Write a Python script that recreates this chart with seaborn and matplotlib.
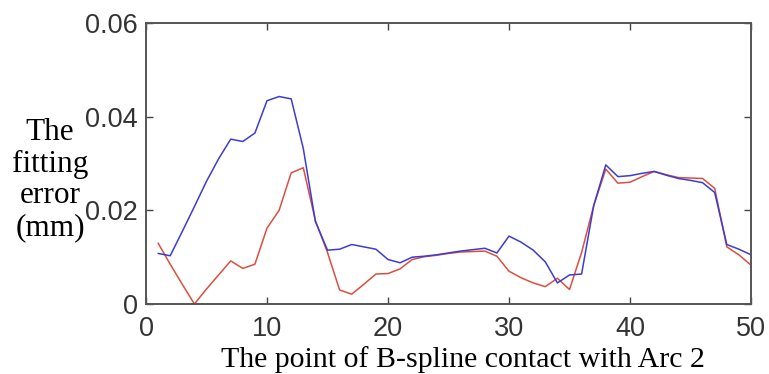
import numpy as np
import pandas as pd
import matplotlib
matplotlib.use("Agg")
import matplotlib.pyplot as plt
import seaborn as sns

points = list(range(1, 51))
blue_err = [0.0108, 0.0103, 0.0155, 0.0208, 0.0262, 0.0310, 0.0352, 0.0347, 0.0365, 0.0434,
            0.0443, 0.0438, 0.0332, 0.0176, 0.0115, 0.0117, 0.0127, 0.0122, 0.0117, 0.0095,
            0.0088, 0.0100, 0.0102, 0.0105, 0.0109, 0.0113, 0.0116, 0.0119, 0.0109, 0.0145,
            0.0132, 0.0115, 0.0090, 0.0045, 0.0062, 0.0064, 0.0210, 0.0297, 0.0272, 0.0274,
            0.0279, 0.0283, 0.0275, 0.0268, 0.0264, 0.0259, 0.0238, 0.0127, 0.0117, 0.0105]
red_err = [0.0130, 0.0085, 0.0042, 0.0000, 0.0032, 0.0062, 0.0092, 0.0076, 0.0085, 0.0162,
           0.0200, 0.0280, 0.0291, 0.0178, 0.0110, 0.0030, 0.0021, 0.0042, 0.0064, 0.0065,
           0.0075, 0.0095, 0.0101, 0.0104, 0.0108, 0.0111, 0.0112, 0.0113, 0.0102, 0.0070,
           0.0056, 0.0045, 0.0037, 0.0055, 0.0031, 0.0110, 0.0210, 0.0288, 0.0258, 0.0260,
           0.0272, 0.0283, 0.0276, 0.0270, 0.0269, 0.0268, 0.0247, 0.0122, 0.0105, 0.0083]
x_ticks = [0, 10, 20, 30, 40, 50]
y_ticks = [0, 0.02, 0.04, 0.06]
y_tick_labels = ["0", "0.02", "0.04", "0.06"]

df = pd.DataFrame({
    "point": points * 2,
    "error": red_err + blue_err,
    "series": ["red"] * len(points) + ["blue"] * len(points),
})

sns.set_style("ticks")
plt.rcParams["font.family"] = ["Liberation Sans", "DejaVu Sans"]

fig = plt.figure(figsize=(7.69, 3.74), dpi=100)
ax = fig.add_axes([146 / 769, 1 - 304 / 374, (751 - 146) / 769, (304 - 23) / 374])

sns.lineplot(data=df, x="point", y="error", hue="series",
             palette={"red": "#d9503f", "blue": "#3c3cd2"},
             linewidth=1.1, legend=False, ax=ax)

ax.set_xlim(0, 50)
ax.set_ylim(0, 0.06)
ax.set_xticks(x_ticks)
ax.set_xticklabels([str(t) for t in x_ticks])
ax.set_yticks(y_ticks)
ax.set_yticklabels(y_tick_labels)
ax.tick_params(direction="in", length=5, width=1, colors="#444444",
               labelcolor="#333333", labelsize=19.5, top=True, right=True)
ax.tick_params(axis="x", pad=9)
ax.tick_params(axis="y", pad=6)
for s in ax.spines.values():
    s.set_visible(True)
    s.set_color("#555555")
    s.set_linewidth(1.4)
ax.set_xlabel("")
ax.set_ylabel("")

fig.text(463 / 769, 1 - 367 / 374, "The point of B-spline contact with Arc 2",
         ha="center", va="baseline", fontsize=21.5,
         family=["Liberation Serif", "DejaVu Serif"], color="black")
fig.text(50 / 769, 1 - 180 / 374, "The\nfitting\nerror\n(mm)",
         ha="center", va="center", multialignment="center", fontsize=22.5,
         linespacing=1.12, family=["Liberation Serif", "DejaVu Serif"], color="black")

fig.savefig("out.png", dpi=100, facecolor="white")
